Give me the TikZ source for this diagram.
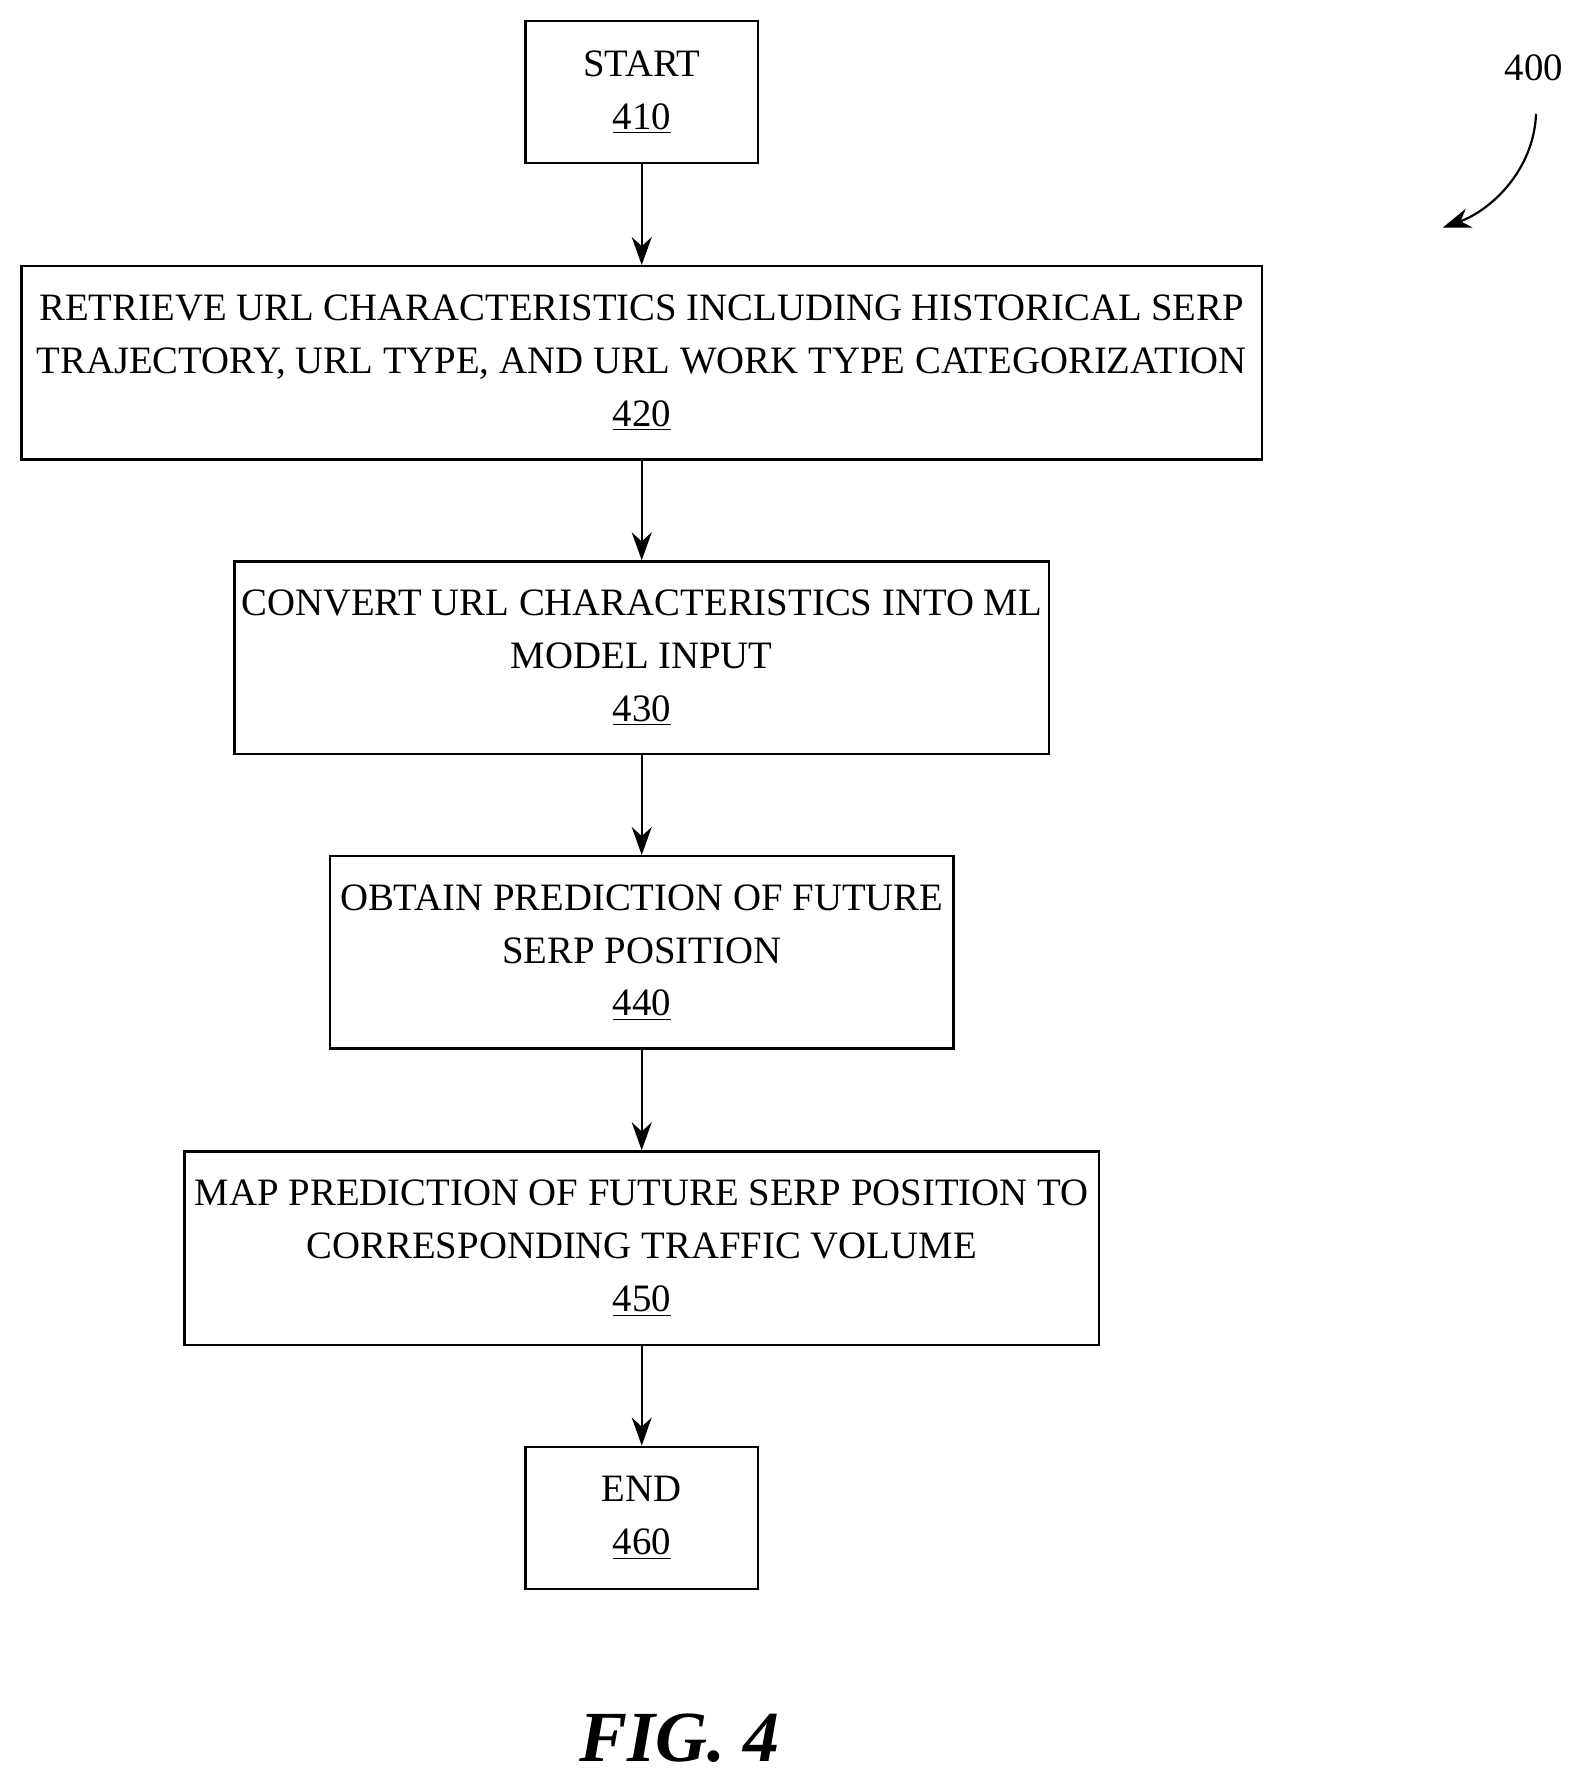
\documentclass[tikz,border=0pt]{standalone}
\usepackage{fontspec}
\setmainfont{Liberation Serif}
\usetikzlibrary{arrows.meta, positioning}

\begin{document}
\begin{tikzpicture}[x=0.02cm, y=-0.02cm]
\tikzset{
  flowbox/.style={rectangle, draw=black, line width=1.2pt, align=center, inner sep=0pt,
    font=\fontsize{19.4}{26.5}\selectfont},
  arrow/.style={line width=1.1pt, -{Stealth[length=14pt, width=10pt]}}
}
\useasboundingbox (0,0) rectangle (1385,1560);

\node (start) [flowbox, minimum width=204*0.02cm, minimum height=125*0.02cm] at (564,81) {START\\\underline{410}};
\node (retrieve) [flowbox, minimum width=1090*0.02cm, minimum height=170*0.02cm] at (564,319) {RETRIEVE URL CHARACTERISTICS INCLUDING HISTORICAL SERP\\TRAJECTORY, URL TYPE, AND URL WORK TYPE CATEGORIZATION\\\underline{420}};
\node (convert) [flowbox, minimum width=716*0.02cm, minimum height=169*0.02cm] at (564,578) {CONVERT URL CHARACTERISTICS INTO ML\\MODEL INPUT\\\underline{430}};
\node (obtain) [flowbox, minimum width=548*0.02cm, minimum height=169*0.02cm] at (564,837) {OBTAIN PREDICTION OF FUTURE\\SERP POSITION\\\underline{440}};
\node (map) [flowbox, minimum width=804*0.02cm, minimum height=170*0.02cm] at (564,1097) {MAP PREDICTION OF FUTURE SERP POSITION TO\\CORRESPONDING TRAFFIC VOLUME\\\underline{450}};
\node (end) [flowbox, minimum width=204*0.02cm, minimum height=125*0.02cm] at (564,1334) {END\\\underline{460}};

\draw [arrow] (start) -- (retrieve);
\draw [arrow] (retrieve) -- (convert);
\draw [arrow] (convert) -- (obtain);
\draw [arrow] (obtain) -- (map);
\draw [arrow] (map) -- (end);

% reference numeral
\node (label) [font=\fontsize{19.4}{25}\selectfont] at (1348,60) {400};
\coordinate (tip) at (1268,200);
\draw [arrow] (1350,100) .. controls (1348,150) and (1310,185) .. (tip);

\node (fig) [font=\bfseries\itshape\fontsize{36}{40}\selectfont] at (597,1528) {FIG. 4};
\end{tikzpicture}
\end{document}
